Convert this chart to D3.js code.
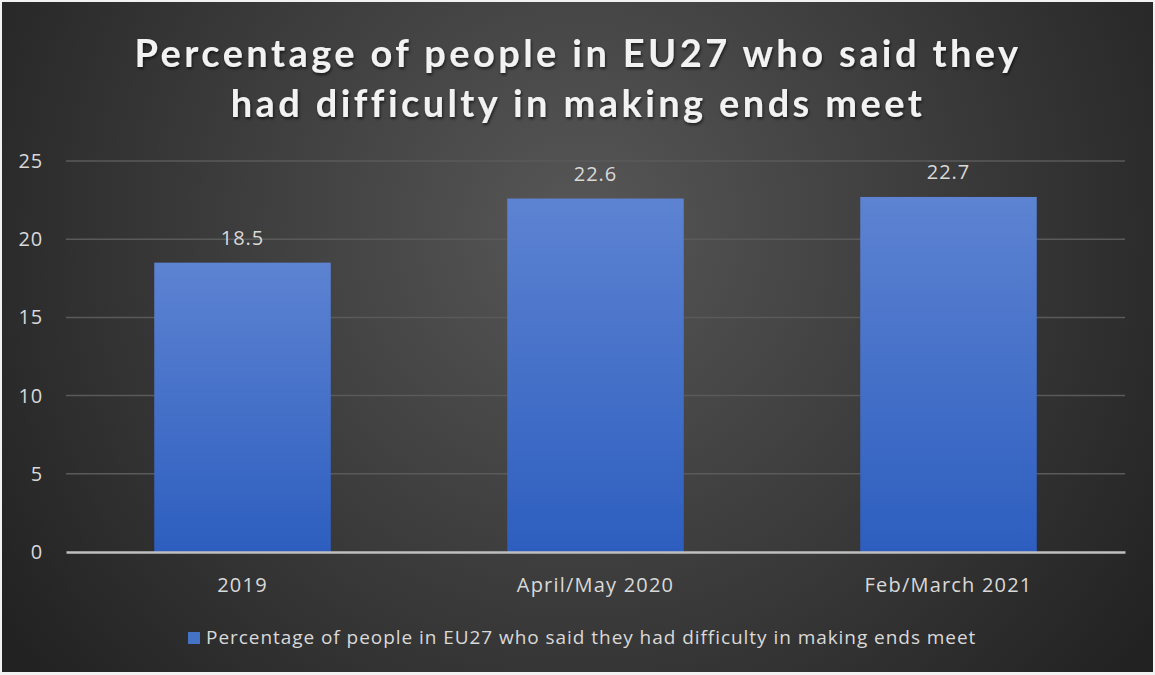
<!DOCTYPE html>
<html>
<head>
<meta charset="utf-8">
<script src="https://cdn.jsdelivr.net/npm/d3@7"></script>
<style>
  html, body { margin: 0; padding: 0; background: #fff; }
  svg { display: block; }
</style>
</head>
<body>
<div id="chart"></div>
<script>
// data
const categories = ['2019', 'April/May 2020', 'Feb/March 2021'];
const values = [18.5, 22.6, 22.7];
const yTicks = [0, 5, 10, 15, 20, 25];
const titleLines = ['Percentage of people in EU27 who said they', 'had difficulty in making ends meet'];
const seriesName = 'Percentage of people in EU27 who said they had difficulty in making ends meet';

const W = 1155, H = 675;
const margin = { top: 161, right: 30, bottom: 123, left: 66 };
const width = W - margin.left - margin.right;
const height = H - margin.top - margin.bottom;
const font = '"Open Sans", Lato, sans-serif';
const titleFont = 'Lato, "Open Sans", sans-serif';

const svg = d3.select('#chart').append('svg')
  .attr('width', W)
  .attr('height', H);

const defs = svg.append('defs');
const bg = defs.append('radialGradient')
  .attr('id', 'bg')
  .attr('gradientUnits', 'userSpaceOnUse')
  .attr('cx', 580).attr('cy', 230).attr('r', 700);
bg.append('stop').attr('offset', '0%').attr('stop-color', '#575757');
bg.append('stop').attr('offset', '100%').attr('stop-color', '#222222');

const barGrad = defs.append('linearGradient')
  .attr('id', 'bar')
  .attr('x1', 0).attr('y1', 0).attr('x2', 0).attr('y2', 1);
barGrad.append('stop').attr('offset', '0%').attr('stop-color', '#5d83d2');
barGrad.append('stop').attr('offset', '100%').attr('stop-color', '#2d5ebf');

const shadow = defs.append('filter').attr('id', 'ts')
  .attr('x', '-5%').attr('y', '-20%').attr('width', '110%').attr('height', '140%');
shadow.append('feDropShadow')
  .attr('dx', 1).attr('dy', 2).attr('stdDeviation', 1.5)
  .attr('flood-color', '#000').attr('flood-opacity', 0.6);

// background with thin light frame
svg.append('rect')
  .attr('x', 0).attr('y', 0).attr('width', W).attr('height', H)
  .attr('fill', '#f2f2f2');
svg.append('rect')
  .attr('x', 2).attr('y', 2).attr('width', W - 4).attr('height', H - 5)
  .attr('fill', 'url(#bg)');

// title
svg.append('g')
  .attr('filter', 'url(#ts)')
  .selectAll('text')
  .data(titleLines)
  .enter().append('text')
  .attr('x', 578)
  .attr('y', (d, i) => 67 + i * 50)
  .attr('text-anchor', 'middle')
  .attr('font-family', titleFont)
  .attr('font-weight', 'bold')
  .attr('font-size', 38)
  .attr('letter-spacing', 3.4)
  .attr('fill', '#f2f2f2')
  .text(d => d);

const chart = svg.append('g')
  .attr('transform', `translate(${margin.left}, ${margin.top})`);

const x = d3.scaleBand().domain(categories).range([0, width]).paddingInner(0.5).paddingOuter(0.25);
const y = d3.scaleLinear().domain([0, 25]).range([height, 0]);

// grid lines
chart.append('g')
  .selectAll('line')
  .data(yTicks.filter(d => d > 0))
  .enter().append('line')
  .attr('x1', 0).attr('x2', width)
  .attr('y1', d => y(d)).attr('y2', d => y(d))
  .attr('stroke', '#5a5a5a')
  .attr('stroke-width', 1.5);

// y axis labels
const yAxis = chart.append('g')
  .call(d3.axisLeft(y).tickValues(yTicks).tickSize(0).tickPadding(0));
yAxis.select('.domain').remove();
yAxis.selectAll('text')
  .attr('x', -23)
  .attr('font-family', font)
  .attr('font-size', 20)
  .attr('letter-spacing', 0.8)
  .attr('fill', '#d9d9d9');

// bars
chart.append('g')
  .selectAll('rect')
  .data(values)
  .enter().append('rect')
  .attr('x', (d, i) => x(categories[i]))
  .attr('y', d => y(d))
  .attr('width', x.bandwidth())
  .attr('height', d => height - y(d))
  .attr('fill', 'url(#bar)');

// value labels
chart.append('g')
  .selectAll('text')
  .data(values)
  .enter().append('text')
  .attr('x', (d, i) => x(categories[i]) + x.bandwidth() / 2)
  .attr('y', d => y(d) - 18)
  .attr('text-anchor', 'middle')
  .attr('font-family', font)
  .attr('font-size', 20)
  .attr('letter-spacing', 1)
  .attr('fill', '#d9d9d9')
  .text(d => d);

// x axis
const xAxis = chart.append('g')
  .attr('transform', `translate(0, ${height})`)
  .call(d3.axisBottom(x).tickSize(0).tickPadding(0));
xAxis.select('.domain')
  .attr('stroke', '#bfbfbf')
  .attr('stroke-width', 2.5);
xAxis.selectAll('text')
  .attr('dy', 0)
  .attr('y', 40)
  .attr('font-family', font)
  .attr('font-size', 20)
  .attr('letter-spacing', 1.2)
  .attr('fill', '#d9d9d9');

// legend
const legend = svg.append('g')
  .attr('transform', 'translate(188, 644)');
legend.append('rect')
  .attr('x', 0).attr('y', -12)
  .attr('width', 12).attr('height', 12)
  .attr('fill', '#4472c4');
legend.append('text')
  .attr('x', 18)
  .attr('y', 0)
  .attr('font-family', font)
  .attr('font-size', 19)
  .attr('letter-spacing', 0.95)
  .attr('fill', '#d9d9d9')
  .text(seriesName);
</script>
</body>
</html>
